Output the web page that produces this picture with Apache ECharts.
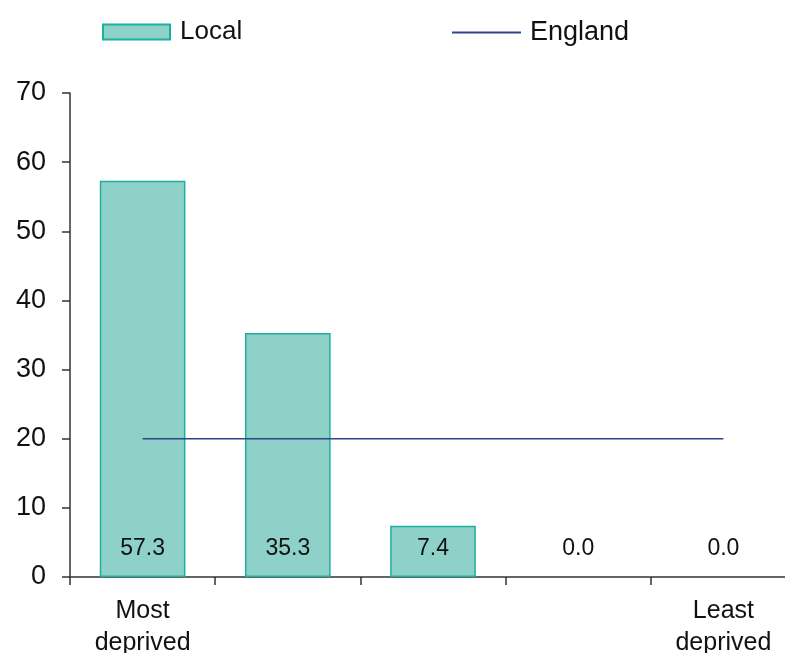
<!DOCTYPE html>
<html>
<head>
<meta charset="utf-8">
<script src="https://cdn.jsdelivr.net/npm/echarts@6/dist/echarts.min.js"></script>
<style>
  html, body { margin: 0; padding: 0; background: #fff; }
  #chart { width: 785px; height: 653px; }
</style>
</head>
<body>
<div id="chart"></div>
<script>
// Deprivation quintiles, most to least deprived
const categories = ['Most\ndeprived', '', '', '', 'Least\ndeprived'];
const localValues = [57.3, 35.3, 7.4, 0.0, 0.0];
const englandValues = [20, 20, 20, 20, 20];
const yTicks = { min: 0, max: 70, interval: 10 };

const FONT = "'Liberation Sans', Arial, sans-serif";
const TEXT = '#111';
const NAVY = '#2e4587';

const chart = echarts.init(document.getElementById('chart'), null, { renderer: 'canvas' });

// zero-height bars get no outline
const localData = localValues.map(v => (v === 0 ? { value: v, itemStyle: { borderWidth: 0 } } : v));

chart.setOption({
  animation: false,
  backgroundColor: '#fff',
  textStyle: { fontFamily: FONT, color: TEXT },
  legend: [
    {
      data: [{ name: 'Local', icon: 'rect' }],
      left: 102, top: 19, padding: 0,
      itemWidth: 67, itemHeight: 15, itemGap: 10,
      textStyle: { fontFamily: FONT, fontSize: 26, color: TEXT, padding: [0, 0, 0, 5] }
    },
    {
      data: [{ name: 'England', icon: 'rect', itemStyle: { color: NAVY } }],
      left: 452, top: 19, padding: 0,
      itemWidth: 69, itemHeight: 2, itemGap: 8,
      textStyle: { fontFamily: FONT, fontSize: 27, color: TEXT, padding: [0, 0, 0, 4] }
    }
  ],
  grid: {
    left: 70, width: 726, top: 93, bottom: 76,
    containLabel: false, outerBoundsMode: 'none'
  },
  xAxis: {
    type: 'category',
    data: categories,
    axisLine: { lineStyle: { color: '#333', width: 1.5 } },
    axisTick: { show: true, alignWithLabel: false, length: 8, lineStyle: { color: '#333', width: 1.5 } },
    axisLabel: {
      interval: 0, margin: 18,
      fontFamily: FONT, fontSize: 25, lineHeight: 32, color: TEXT
    },
    splitLine: { show: false }
  },
  yAxis: {
    type: 'value',
    min: yTicks.min, max: yTicks.max, interval: yTicks.interval,
    axisLine: { show: true, lineStyle: { color: '#333', width: 1.5 } },
    axisTick: { show: true, length: 8, lineStyle: { color: '#333', width: 1.5 } },
    axisLabel: { margin: 24, fontFamily: FONT, fontSize: 27, color: TEXT },
    splitLine: { show: false }
  },
  series: [
    {
      name: 'Local',
      type: 'bar',
      data: localData,
      barCategoryGap: '41%',
      itemStyle: { color: '#8ed1c8', borderColor: '#1bb1a1', borderWidth: 1.5 },
      label: {
        show: true,
        position: 'insideBottom',
        distance: 17,
        formatter: p => p.value.toFixed(1),
        fontFamily: FONT, fontSize: 23, color: TEXT
      },
      z: 2
    },
    {
      name: 'England',
      type: 'line',
      data: englandValues,
      symbol: 'none',
      showSymbol: false,
      lineStyle: { color: NAVY, width: 1.5 },
      itemStyle: { color: NAVY },
      z: 3
    }
  ]
});
</script>
</body>
</html>
